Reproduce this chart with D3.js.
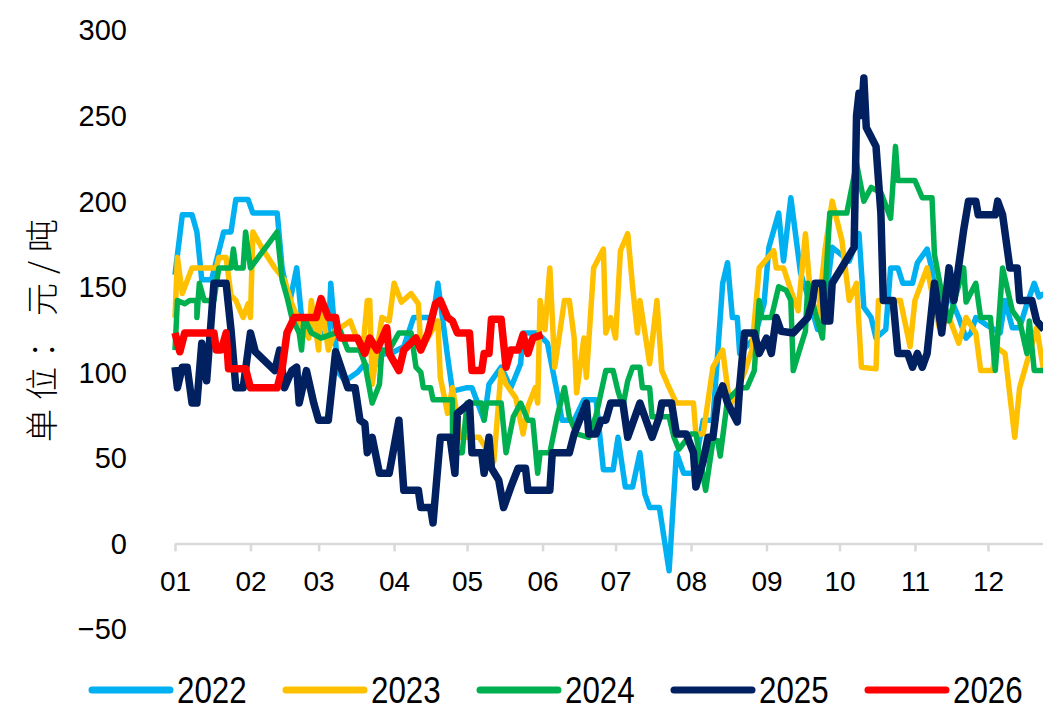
<!DOCTYPE html>
<html>
<head>
<meta charset="utf-8">
<script src="https://cdn.jsdelivr.net/npm/d3@7"></script>
<style>
  body { margin: 0; background: #fff; }
  svg { display: block; }
</style>
</head>
<body>
<div id="chart"></div>
<script>
// day of year (0 = Jan 1) and value
var years = ['2022', '2023', '2024', '2025', '2026']
var colors = ['#00B0F0', '#FFC000', '#00B050', '#002060', '#FF0000']
var widths = [5.5, 5.5, 5.5, 7.5, 7.5]
var yTicks = [-50, 0, 50, 100, 150, 200, 250, 300]
var monthLabels = ['01', '02', '03', '04', '05', '06', '07', '08', '09', '10', '11', '12']
var yTitle = '单位：元/吨'

var s2022 = [[0,157],[3,192],[7,192],[9,182],[11,154],[15,154],[20,182],[23,182],[25,201],[30,201],[32,193],[42,193],
  [44,161],[47,140],[50,161],[52,132],[58,125],[63,120],[64,152],[67,100],[70,95],[75,100],[78,105],[81,100],[84,110],
  [90,112],[94,115],[98,132],[106,132],[108,152],[112,109],[114,89],[120,91],[122,91],[127,72],[129,93],[134,103],
  [138,91],[142,105],[143,123],[149,123],[153,117],[157,88],[159,72],[164,72],[168,84],[173,84],[176,43],[180,43],
  [182,62],[185,33],[188,33],[191,53],[193,29],[195,21],[199,21],[203,-16],[206,53],[209,41],[213,41],[217,72],
  [221,72],[225,152],[227,164],[229,132],[231,132],[232,111],[238,120],[242,140],[244,173],[248,193],[250,165],
  [253,202],[255,180],[257,158],[261,140],[264,125],[268,150],[270,173],[277,165],[281,181],[283,138],[286,132],
  [288,120],[292,125],[294,161],[297,161],[299,152],[303,152],[305,164],[309,172],[311,160],[313,140],[315,132],
  [318,145],[322,132],[325,120],[327,123],[329,132],[333,128],[339,123],[341,142],[344,126],[347,126],[350,140],
  [353,152],[355,144],[357,146]]

var s2023 = [[0,132],[1,167],[3,146],[7,161],[17,161],[18,167],[21,167],[23,145],[25,142],[28,132],[30,140],[31,132],
  [32,182],[36,172],[41,161],[45,154],[48,140],[51,130],[55,120],[56,142],[59,113],[60,142],[63,113],[66,125],[68,126],
  [72,130],[77,111],[79,142],[80,142],[81,93],[85,132],[88,130],[90,152],[93,141],[97,146],[100,140],[101,113],
  [105,123],[108,130],[109,97],[112,76],[114,91],[116,74],[117,62],[125,62],[128,55],[131,48],[134,101],[136,93],
  [140,85],[143,64],[145,80],[148,91],[149,82],[150,142],[152,125],[154,161],[156,103],[160,142],[162,142],[164,120],
  [165,88],[168,120],[169,97],[172,161],[176,172],[177,123],[179,132],[181,120],[183,171],[186,181],[188,150],
  [190,123],[191,142],[195,105],[198,142],[200,101],[203,91],[206,82],[213,82],[214,64],[217,64],[221,103],[225,113],
  [228,80],[234,100],[237,113],[240,161],[246,171],[247,161],[250,161],[253,148],[256,136],[259,181],[261,146],
  [264,130],[267,171],[270,200],[274,177],[277,142],[280,152],[282,103],[288,102],[289,142],[298,142],[302,115],
  [304,142],[309,161],[311,146],[314,126],[318,132],[322,117],[325,132],[329,123],[331,101],[336,101],[337,115],
  [341,111],[345,62],[347,91],[351,111],[354,126],[357,100]]

var s2024 = [[0,113],[1,142],[4,140],[6,142],[9,142],[9,132],[10,152],[12,142],[16,142],[18,161],[23,161],[24,172],
  [25,161],[28,161],[29,182],[31,161],[42,182],[44,154],[46,144],[48,132],[51,123],[52,113],[53,132],[56,123],[60,120],
  [64,122],[68,124],[71,113],[76,113],[78,105],[81,82],[84,93],[85,113],[88,113],[92,123],[97,123],[99,103],[101,100],
  [102,91],[105,91],[106,84],[114,84],[114,53],[118,53],[120,82],[126,82],[127,72],[128,82],[134,82],[136,53],[139,74],
  [142,82],[145,72],[147,72],[149,41],[150,53],[154,53],[157,74],[160,91],[162,74],[165,64],[170,62],[173,75],
  [177,101],[180,101],[182,89],[184,80],[186,95],[188,103],[191,103],[192,91],[195,91],[196,74],[203,74],[205,62],
  [207,55],[212,64],[214,64],[218,31],[221,60],[223,60],[224,51],[227,84],[232,91],[235,91],[238,101],[240,142],
  [241,132],[245,132],[248,150],[251,148],[253,142],[254,101],[257,115],[259,124],[260,152],[263,135],[266,120],
  [269,193],[276,193],[280,222],[283,200],[286,208],[290,205],[294,190],[296,232],[297,212],[304,212],[307,202],
  [311,202],[312,169],[315,146],[318,130],[321,146],[324,161],[325,141],[329,152],[331,132],[335,132],[337,101],
  [340,161],[344,136],[347,130],[350,111],[351,130],[353,101],[357,101]]

var s2025 = [[0,103],[1,91],[3,103],[5,103],[7,82],[9,82],[11,117],[13,95],[16,152],[21,152],[23,125],[25,91],[28,91],
  [31,123],[33,112],[41,101],[43,113],[45,91],[48,101],[50,103],[51,82],[54,101],[57,82],[59,72],[63,72],[66,112],
  [71,91],[74,91],[76,72],[78,70],[79,53],[81,62],[84,41],[88,41],[92,72],[94,31],[100,31],[101,21],[105,21],[106,12],
  [109,62],[113,62],[115,41],[116,76],[121,82],[122,53],[126,53],[127,41],[129,62],[130,44],[133,37],[135,21],[138,33],
  [141,44],[144,44],[145,31],[154,31],[155,53],[162,53],[164,64],[169,82],[170,64],[173,64],[175,72],[177,72],
  [179,82],[184,82],[186,62],[191,82],[196,62],[199,74],[200,82],[204,82],[206,64],[210,64],[213,53],[214,33],
  [217,48],[219,62],[221,62],[223,85],[225,92],[227,82],[231,71],[232,92],[234,123],[238,123],[240,111],[243,120],
  [245,111],[247,132],[249,124],[254,123],[260,132],[262,142],[263,152],[266,152],[267,130],[269,130],[270,152],
  [279,173],[280,250],[281,263],[282,250],[283,272],[284,243],[288,232],[290,193],[291,142],[295,142],[297,111],
  [301,111],[303,103],[305,111],[307,103],[309,111],[312,152],[315,123],[318,161],[320,142],[324,183],[326,200],
  [329,200],[330,192],[337,192],[338,200],[340,192],[343,161],[346,161],[347,142],[352,142],[354,130],[357,125]]

var s2026 = [[0,123],[2,112],[4,123],[16,123],[17,113],[19,113],[21,123],[22,102],[29,102],[31,91],[42,91],[44,102],
  [46,123],[49,132],[58,132],[60,143],[63,132],[66,132],[67,123],[68,120],[75,120],[78,111],[80,120],[83,113],[87,126],
  [88,111],[92,101],[94,113],[99,120],[101,113],[104,123],[107,140],[109,142],[112,132],[114,130],[116,123],[121,123],
  [122,101],[126,101],[127,111],[129,111],[130,131],[134,131],[136,103],[138,113],[141,113],[143,122],[145,111],
  [147,120],[151,122]]

var series = [s2022, s2023, s2024, s2025, s2026]

var width = 1043, height = 709
var margin = { top: 30, left: 175, bottom: 80 }
var base = new Date(2021, 0, 1)

var svg = d3.select('#chart').append('svg')
    .attr('width', width)
    .attr('height', height)

var x = d3.scaleTime()
    .domain([base, new Date(2021, 11, 31)])
    .range([margin.left, margin.left + 886])

var y = d3.scaleLinear()
    .domain([-50, 300])
    .range([height - margin.bottom, margin.top])

// x axis sits on the zero line
var months = d3.timeMonth.range(base, new Date(2021, 11, 2))
var axis = d3.axisBottom(x)
    .tickValues(months)
    .tickFormat(function (d, i) { return monthLabels[i] })
    .tickSizeInner(8)
    .tickSizeOuter(0)
    .tickPadding(20)

var gx = svg.append('g')
    .attr('transform', `translate(0, ${y(0)})`)
    .call(axis)
gx.select('.domain').attr('stroke', '#d9d9d9').attr('stroke-width', 2.5)
gx.selectAll('.tick line').attr('stroke', '#d9d9d9').attr('stroke-width', 2.5)
gx.selectAll('.tick text')
    .attr('fill', '#000')
    .style('font-family', '"Liberation Sans", Arial, sans-serif')
    .style('font-size', '28px')

// y labels, no axis line
svg.append('g').selectAll('text')
    .data(yTicks)
    .enter().append('text')
    .attr('x', 127)
    .attr('y', function (d) { return y(d) })
    .attr('dy', '0.36em')
    .attr('text-anchor', 'end')
    .style('font-family', '"Liberation Sans", Arial, sans-serif')
    .style('font-size', '29px')
    .attr('fill', '#000')
    .text(function (d) { return d < 0 ? '\u2212' + Math.abs(d) : d })

svg.append('text')
    .attr('transform', `translate(42, ${y(127)}) rotate(-90)`)
    .attr('text-anchor', 'middle')
    .attr('dy', '0.36em')
    .style('font-family', '"Noto Sans CJK SC", sans-serif')
    .style('font-weight', 300)
    .style('font-size', '33px')
    .style('letter-spacing', '9px')
    .attr('fill', '#000')
    .text(yTitle)

var line = d3.line()
    .x(function (d) { return x(d3.timeDay.offset(base, d[0])) })
    .y(function (d) { return y(d[1]) })

svg.append('g').selectAll('path')
    .data(series)
    .enter().append('path')
    .attr('d', line)
    .attr('fill', 'none')
    .attr('stroke', function (d, i) { return colors[i] })
    .attr('stroke-width', function (d, i) { return widths[i] })
    .attr('stroke-linejoin', 'round')

// legend
var legend = svg.append('g')
    .selectAll('g')
    .data(years)
    .enter().append('g')
    .attr('transform', function (d, i) { return `translate(${92 + i * 194}, 690)` })

legend.append('line')
    .attr('x1', 0).attr('x2', 78)
    .attr('stroke', function (d, i) { return colors[i] })
    .attr('stroke-width', 7)
    .attr('stroke-linecap', 'round')

// the legend face is a narrow one: squeeze it sideways
legend.append('text')
    .attr('transform', 'translate(85, 0) scale(0.87, 1)')
    .attr('dy', '0.36em')
    .style('font-family', '"Liberation Sans", Arial, sans-serif')
    .style('font-size', '36px')
    .attr('fill', '#000')
    .text(function (d) { return d })
</script>
</body>
</html>
